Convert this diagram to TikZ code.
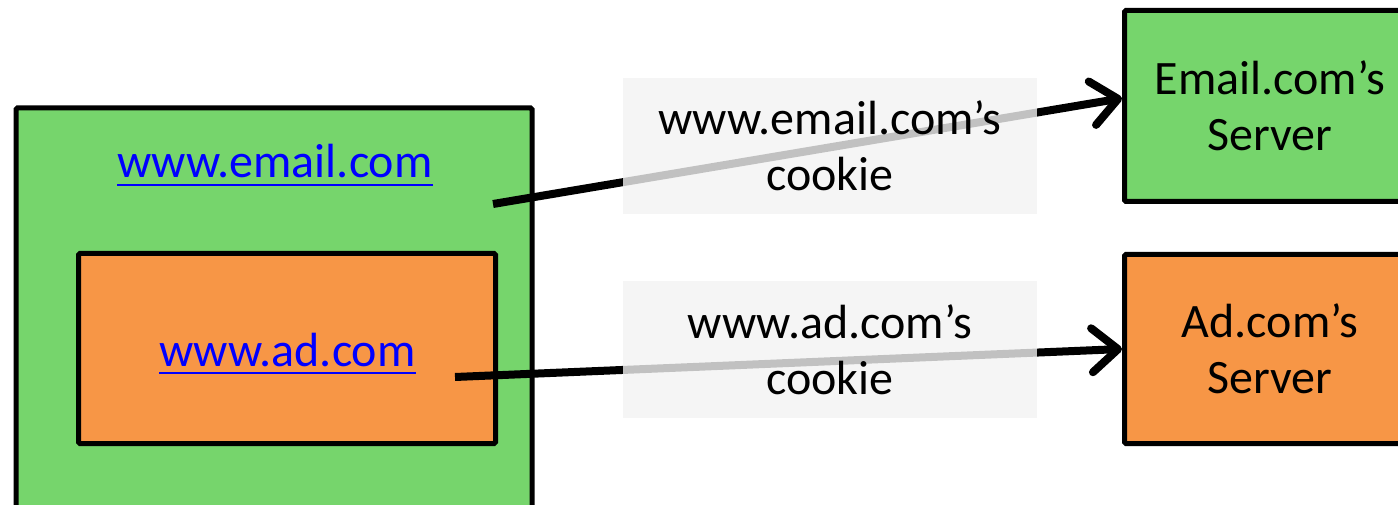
\documentclass[tikz,border=0pt]{standalone}
\usepackage{fontspec}
\setmainfont{Carlito}
\usetikzlibrary{positioning, arrows.meta}
\definecolor{sitegreen}{HTML}{76D56C}
\definecolor{adorange}{HTML}{F79646}
\definecolor{cookiegray}{HTML}{F2F2F2}
\definecolor{linkblue}{HTML}{0000FF}

\tikzset{
  sitebox/.style={draw=black, line width=5pt, rounded corners=1.5pt, inner sep=0pt,
                  align=center, font=\fontsize{48}{56}\selectfont},
  linktext/.style={inner sep=0pt, text=linkblue, font=\fontsize{48}{56}\selectfont},
  linkline/.style={draw=linkblue, line width=2.5pt},
  cookiebox/.style={fill=cookiegray, fill opacity=0.8, text opacity=1, align=center,
                    minimum width=414pt, minimum height=136pt, inner sep=0pt,
                    font=\fontsize{48}{56}\selectfont},
  sendarrow/.style={line width=8pt, -{Straight Barb[length=26pt, width=44pt, round]}}
}

\begin{document}
\begin{tikzpicture}[x=1pt, y=1pt]
  \useasboundingbox (0,0) rectangle (1398,504);
  % browser page with the embedded ad
  \node[sitebox, fill=sitegreen, minimum width=516pt, minimum height=420pt] (emailsite) at (274,186) {};
  \node[sitebox, fill=adorange, minimum width=417pt, minimum height=190pt] (adsite) at (287,155.5) {};
  \node[linktext, anchor=base] (emailurl) at (275,326) {www.email.com};
  \node[linktext, anchor=base] (adurl) at (287.5,138) {www.ad.com};
  \draw[linkline] ([yshift=-7pt]emailurl.base west) -- ([yshift=-7pt]emailurl.base east);
  \draw[linkline] ([yshift=-7pt]adurl.base west) -- ([yshift=-7pt]adurl.base east);

  % servers
  \node[sitebox, fill=sitegreen, minimum width=291pt, minimum height=191pt] (emailserver) at (1270,398) {Email.com’s\\Server};
  \node[sitebox, fill=adorange, minimum width=291pt, minimum height=189pt] (adserver) at (1270,155) {Ad.com’s\\Server};

  % cookies sent along
  \coordinate (emailfrom) at (493,300);
  \coordinate (adfrom) at (455,127);
  \draw[sendarrow] (emailfrom) -- (emailserver.177);
  \draw[sendarrow] (adfrom) -- (adserver.west);
  \node[cookiebox] (emailcookie) at (830,358) {www.email.com’s\\cookie};
  \node[cookiebox] (adcookie) at (830,154.5) {www.ad.com’s\\cookie};
\end{tikzpicture}
\end{document}
